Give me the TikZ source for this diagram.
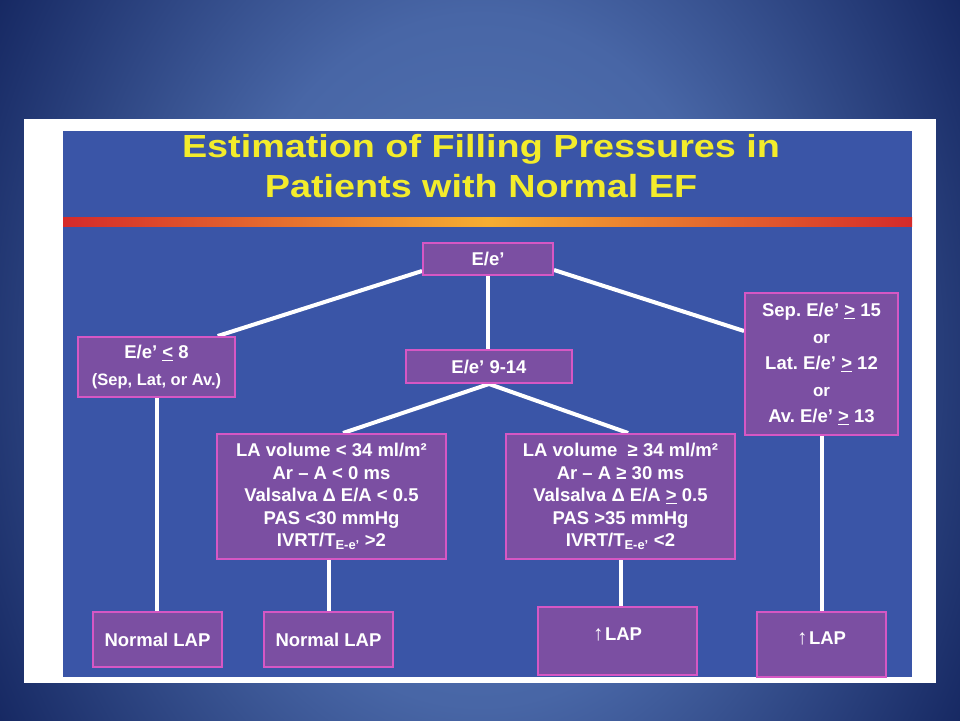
\documentclass[tikz,border=0pt]{standalone}
\usepackage{fontspec}
\setmainfont{Liberation Sans}
\newfontfamily\titlefont[FakeStretch=1.18]{Liberation Sans}
\usetikzlibrary{calc}
\definecolor{bgA}{HTML}{5677B6}
\definecolor{bgB}{HTML}{4866A6}
\definecolor{bgC}{HTML}{162862}
\definecolor{panelblue}{HTML}{3A55A7}
\definecolor{boxfill}{HTML}{7B4FA2}
\definecolor{boxedge}{HTML}{D657C4}
\definecolor{titleyellow}{HTML}{F3EC2B}
\definecolor{barred}{HTML}{D42A2A}
\definecolor{barorange}{HTML}{F6AE32}
\pgfdeclareradialshading{slidebg}{\pgfpoint{0bp}{0bp}}{color(0bp)=(bgA); color(12bp)=(bgB); color(25bp)=(bgC); color(50bp)=(bgC)}
\pgfdeclarelayer{back}
\pgfdeclarelayer{lines}
\pgfsetlayers{back,lines,main}
\frenchspacing
\begin{document}
\begin{tikzpicture}[x=1pt,y=-1pt,
  box/.style={draw=boxedge, fill=boxfill, line width=2pt, inner sep=0pt, text=white, align=center,
    font=\bfseries\fontsize{18.5}{22.5}\selectfont},
  boxtext/.style={inner sep=0pt, text=white, align=center, font=\bfseries\fontsize{18.5}{22.5}\selectfont},
  conn/.style={draw=white, line width=4pt},
  titletext/.style={inner sep=0pt, text=titleyellow, font=\titlefont\bfseries\fontsize{32}{40}\selectfont}]
\useasboundingbox (0,0) rectangle (960,720);
\begin{pgfonlayer}{back}
  \fill[bgC] (0,0) rectangle (960,720);
  \begin{scope}
    \clip (0,0) rectangle (960,720);
    \shade[shading=slidebg] (480,360) ellipse (560 and 720);
  \end{scope}
  \fill[white] (24,119) rectangle (936,683);
  \fill[panelblue] (63,131) rectangle (912,677);
  \shade[left color=barred, right color=barred, middle color=barorange] (63,217) rectangle (912,226);
\end{pgfonlayer}
% title
\node[titletext, anchor=base] (title1) at (481,157) {Estimation of Filling Pressures in};
\node[titletext, anchor=base] (title2) at (481,197) {Patients with Normal EF};
% boxes
\node[box, minimum width=130, minimum height=32] (root) at (488,259) {E/e’};
\node[box, minimum width=157, minimum height=60] (left) at (156.5,367)
  {E/e’ \underline{<} 8\\[4.5pt]{\fontsize{16.5}{22.5}\selectfont (Sep, Lat, or Av.)}};
\node[box, minimum width=166, minimum height=33] (mid) at (489,366.5) {E/e’ 9-14};
\node[box, minimum width=153, minimum height=142, font=\bfseries\fontsize{18.5}{26.5}\selectfont] (right) at (821.5,364)
  {Sep. E/e’ \underline{>} 15\\{\fontsize{17}{26.5}\selectfont or}\\Lat. E/e’ \underline{>} 12\\{\fontsize{17}{26.5}\selectfont or}\\Av. E/e’ \underline{>} 13};
\node[box, minimum width=229, minimum height=125] (lal) at (331.5,496.5)
  {LA volume < 34 ml/m²\\Ar – A < 0 ms\\Valsalva Δ E/A < 0.5\\PAS <30 mmHg\\IVRT/T\textsubscript{E-e’} >2};
\node[box, minimum width=229, minimum height=125] (lar) at (620.5,496.5)
  {LA volume \ ≥ 34 ml/m²\\Ar – A ≥ 30 ms\\Valsalva Δ E/A \underline{>} 0.5\\PAS >35 mmHg\\IVRT/T\textsubscript{E-e’} <2};
\node[box, minimum width=129, minimum height=55] (nl1) at (157.5,639.5) {Normal LAP};
\node[box, minimum width=129, minimum height=55] (nl2) at (328.5,639.5) {Normal LAP};
\node[box, minimum width=159, minimum height=68] (up1) at (617.5,641) {};
\node[boxtext] (up1t) at (617.5,634) {{\fontsize{21}{21}\selectfont ↑}\kern1.5pt LAP};
\node[box, minimum width=129, minimum height=65] (up2) at (821.5,644.5) {};
\node[boxtext] (up2t) at (821.5,638) {{\fontsize{21}{21}\selectfont ↑}\kern1.5pt LAP};
% connectors
\begin{pgfonlayer}{lines}
  \draw[conn] ($(root.south west)+(0,-5)$) -- ($(left.north west)!0.885!(left.north east)$);
  \draw[conn] (root.south) -- (root.south |- mid.north);
  \draw[conn] ($(root.south east)+(0,-6)$) -- ($(right.north west)+(0,39)$);
  \draw[conn] (mid.south) -- ($(lal.north west)!0.55!(lal.north east)$);
  \draw[conn] (mid.south) -- ($(lar.north west)!0.533!(lar.north east)$);
  \draw[conn] (left.south) -- (left.south |- nl1.north);
  \draw[conn] ($(lal.south)+(-3,0)$) -- ($(lal.south |- nl2.north)+(-3,0)$);
  \draw[conn] (lar.south) -- (lar.south |- up1.north);
  \draw[conn] (right.south) -- (right.south |- up2.north);
\end{pgfonlayer}
\end{tikzpicture}
\end{document}
